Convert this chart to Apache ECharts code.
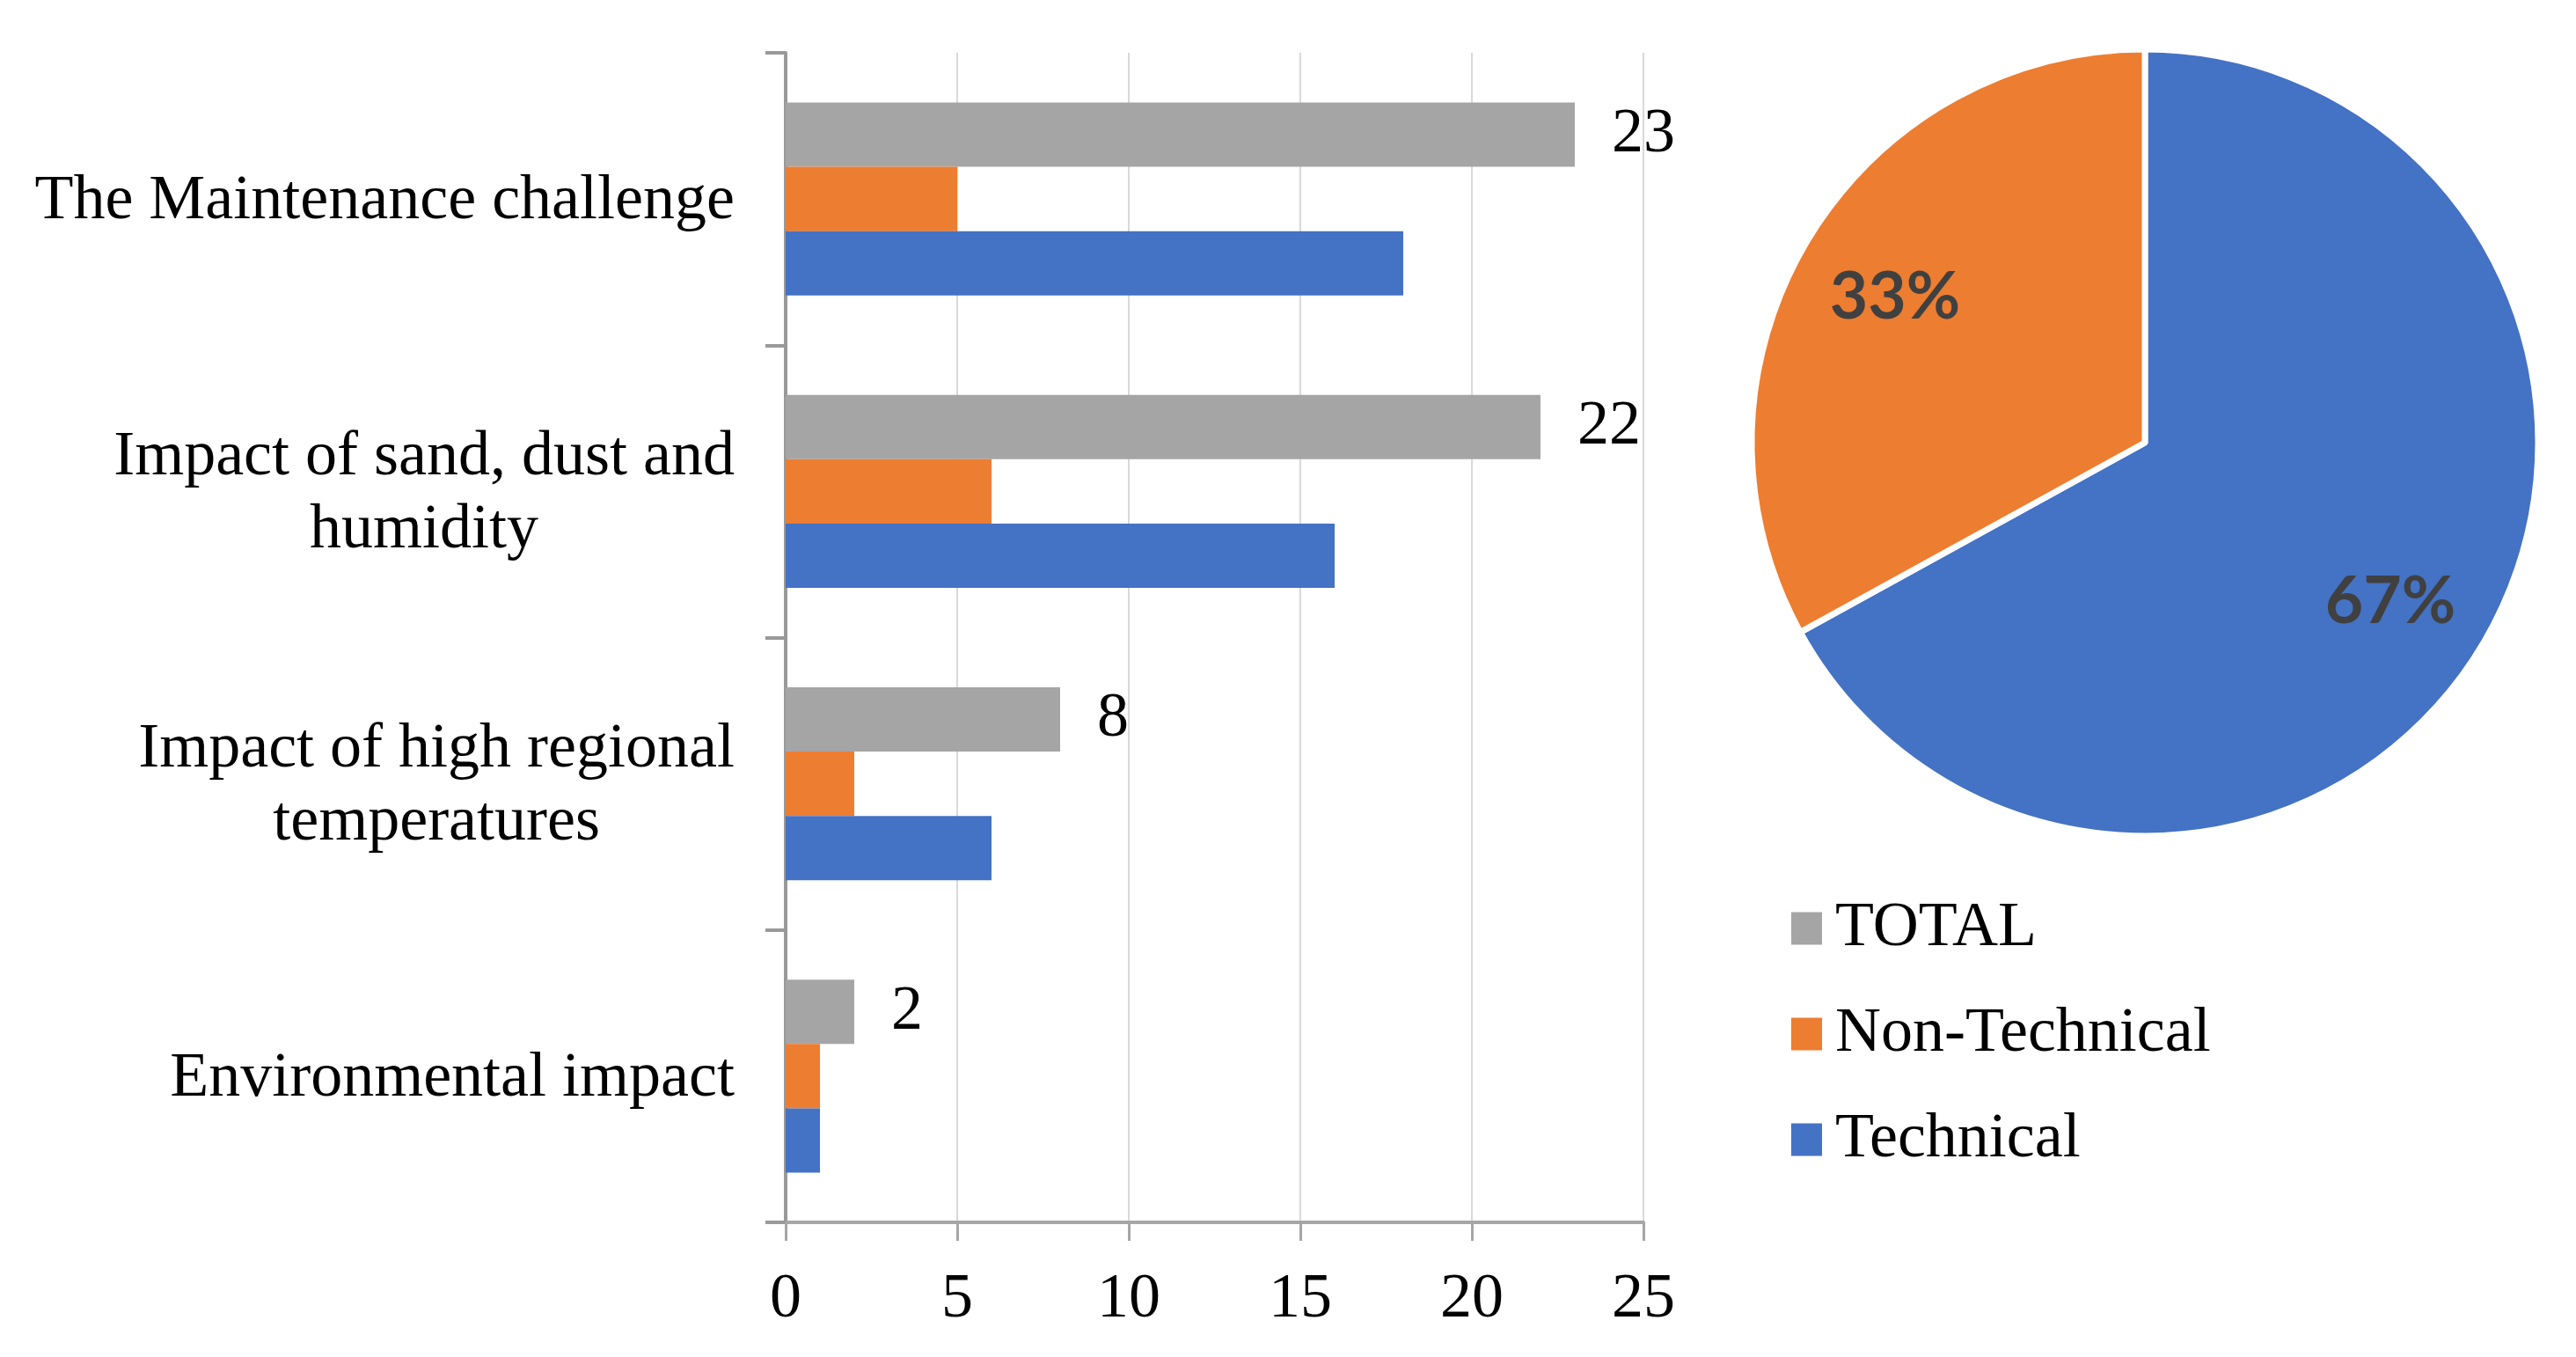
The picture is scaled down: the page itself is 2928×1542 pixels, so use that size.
<!DOCTYPE html>
<html>
<head>
<meta charset="utf-8">
<script src="https://cdn.jsdelivr.net/npm/echarts@6/dist/echarts.min.js"></script>
<style>
html,body{margin:0;padding:0;background:#fff;}
#chart{width:2928px;height:1542px;}
</style>
</head>
<body>
<div id="chart"></div>
<script>
const categories = [
  'The Maintenance challenge',
  'Impact of sand, dust and\nhumidity',
  'Impact of high regional\ntemperatures',
  'Environmental impact'
];
const totalValues = [23, 22, 8, 2];
const nonTechnicalValues = [5, 6, 2, 1];
const technicalValues = [18, 16, 6, 1];
const xTicks = [0, 5, 10, 15, 20, 25];
const pieNames = ['Technical', 'Non-Technical'];
const pieValues = [67, 33];

const SERIF = "'Liberation Serif', 'Times New Roman', serif";
const colors = { TOTAL: '#a5a5a5', 'Non-Technical': '#ed7d31', Technical: '#4472c4' };

const chart = echarts.init(document.getElementById('chart'), null, { renderer: 'canvas' });

const option = {
  backgroundColor: '#ffffff',
  animation: false,
  grid: { left: 893, right: 1060, top: 60, bottom: 153, containLabel: false },
  xAxis: {
    type: 'value',
    min: xTicks[0],
    max: xTicks[xTicks.length - 1],
    interval: xTicks[1] - xTicks[0],
    axisLine: { show: true, lineStyle: { color: '#a6a6a6', width: 4 } },
    axisTick: { show: true, length: 21, lineStyle: { color: '#a6a6a6', width: 3 } },
    splitLine: { show: true, lineStyle: { color: '#d9d9d9', width: 2 } },
    axisLabel: { color: '#000', fontFamily: SERIF, fontSize: 72, margin: 52 }
  },
  yAxis: {
    type: 'category',
    inverse: true,
    data: categories,
    axisLine: { show: true, lineStyle: { color: '#999999', width: 4 } },
    axisTick: { show: true, length: 23, lineStyle: { color: '#999999', width: 4 } },
    splitLine: { show: false },
    axisLabel: {
      margin: 58,
      color: '#000',
      fontFamily: SERIF,
      fontSize: 72,
      lineHeight: 83,
      formatter: function (v) {
        return v.split('\n').map(function (l) { return '{c|' + l + '}'; }).join('\n');
      },
      rich: {
        c: { align: 'center', color: '#000', fontFamily: SERIF, fontSize: 72, lineHeight: 83, padding: [6, 0, 0, 0] }
      }
    }
  },
  legend: {
    orient: 'vertical',
    left: 2031,
    top: 1010,
    itemWidth: 35,
    itemHeight: 37,
    itemGap: 40,
    icon: 'rect',
    data: ['TOTAL', 'Non-Technical', 'Technical'],
    textStyle: { color: '#000', fontFamily: SERIF, fontSize: 72, lineHeight: 80, padding: [0, 0, 0, 10] }
  },
  series: [
    {
      name: 'TOTAL', type: 'bar', data: totalValues,
      barGap: '0%', barCategoryGap: '34%',
      itemStyle: { color: colors.TOTAL },
      label: { show: true, position: 'right', distance: 42, color: '#000', fontFamily: SERIF, fontSize: 72 }
    },
    {
      name: 'Non-Technical', type: 'bar', data: nonTechnicalValues,
      barGap: '0%', barCategoryGap: '34%',
      itemStyle: { color: colors['Non-Technical'] }
    },
    {
      name: 'Technical', type: 'bar', data: technicalValues,
      barGap: '0%', barCategoryGap: '34%',
      itemStyle: { color: colors.Technical }
    },
    {
      name: 'Share', type: 'pie',
      center: [2438, 503],
      radius: [0, 447],
      startAngle: 90,
      clockwise: true,
      silent: true,
      itemStyle: { borderColor: '#ffffff', borderWidth: 7 },
      label: {
        show: true, position: 'inside', formatter: '{d}%',
        fontFamily: 'Lato', fontWeight: 'bold', fontSize: 75, color: '#404040'
      },
      labelLine: { show: false },
      data: [
        { name: pieNames[0], value: pieValues[0], itemStyle: { color: colors.Technical }, label: { offset: [84, 66] } },
        { name: pieNames[1], value: pieValues[1], itemStyle: { color: colors['Non-Technical'] }, label: { offset: [-89, -50] } }
      ]
    }
  ]
};
chart.setOption(option);
</script>
</body>
</html>
